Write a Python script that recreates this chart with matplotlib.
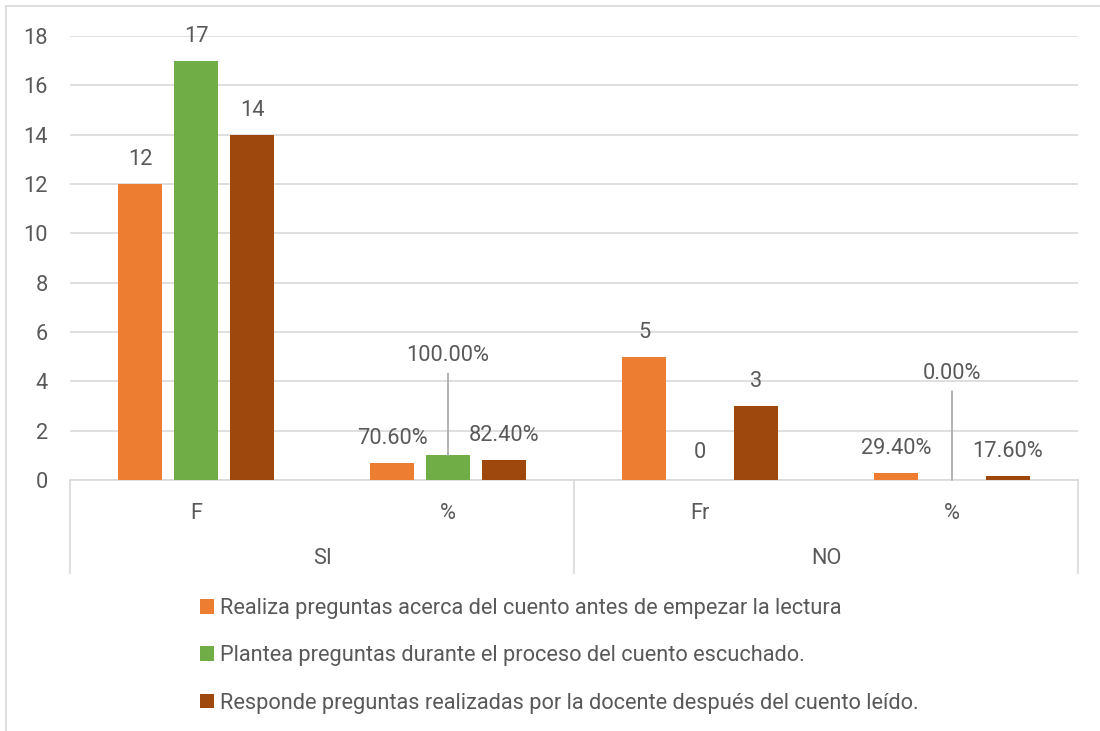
import matplotlib
matplotlib.use("Agg")
import matplotlib.pyplot as plt
from matplotlib.patches import Patch
from matplotlib.lines import Line2D
from matplotlib.transforms import blended_transform_factory
import numpy as np

plt.rcParams['font.family'] = ['Roboto', 'DejaVu Sans']

sub_categories = ["F", "%", "Fr", "%"]
groups = ["SI", "NO"]
series_names = [
    "Realiza preguntas acerca del cuento antes de empezar la lectura",
    "Plantea preguntas durante el proceso del cuento escuchado.",
    "Responde preguntas realizadas por la docente después del cuento leído.",
]
realiza = [12, 0.706, 5, 0.294]
plantea = [17, 1.0, 0, 0.0]
responde = [14, 0.824, 3, 0.176]
labels_realiza = ["12", "70.60%", "5", "29.40%"]
labels_plantea = ["17", "100.00%", "0", "0.00%"]
labels_responde = ["14", "82.40%", "3", "17.60%"]

colors = ["#ED7D31", "#70AD47", "#9E480E"]
text_color = "#595959"
grid_color = "#D9D9D9"

W, H = 1100, 731
fig = plt.figure(figsize=(11, 7.31), dpi=100)
ax = fig.add_axes([70 / W, (H - 480) / H, (1078 - 70) / W, (480 - 36) / H])

x = np.arange(len(sub_categories))
offsets = [-0.222, 0.0, 0.222]
width = 0.175
all_series = [realiza, plantea, responde]
all_labels = [labels_realiza, labels_plantea, labels_responde]

fs = 15.7
for s, (vals, labs) in enumerate(zip(all_series, all_labels)):
    ax.bar(x + offsets[s], vals, width, color=colors[s], zorder=3,
           label=series_names[s])
    for i, (v, lab) in enumerate(zip(vals, labs)):
        xpos = x[i] + offsets[s]
        dy = 17.5  # points above bar top
        leader = False
        if s == 1 and i == 1:
            dy = 72
            leader = True
        elif s == 1 and i == 3:
            dy = 77
            leader = True
        elif s == 1 and i == 2:
            dy = 19.5
        ax.annotate(lab, (xpos, v), xytext=(0, dy), textcoords="offset points",
                    ha="center", va="center", fontsize=fs, color=text_color,
                    zorder=5)
        if leader:
            ax.annotate("", (xpos, v), xytext=(0, dy - 13),
                        textcoords="offset points",
                        arrowprops=dict(arrowstyle="-", color="#A6A6A6", lw=1.2,
                                        shrinkA=0, shrinkB=0), zorder=4)

ax.set_xlim(-0.5, 3.5)
ax.set_ylim(0, 18)
ax.set_yticks(np.arange(0, 19, 2))
ax.yaxis.grid(True, color=grid_color, lw=1.2, zorder=0)
ax.set_axisbelow(True)
for sp in ["top", "right", "left"]:
    ax.spines[sp].set_visible(False)
ax.spines["bottom"].set_color(grid_color)
ax.spines["bottom"].set_linewidth(1.2)
ax.tick_params(axis="y", length=0, pad=16, labelsize=fs, labelcolor=text_color)
ax.set_xticks(x)
ax.set_xticklabels(sub_categories)
ax.tick_params(axis="x", length=0, pad=16.5, labelsize=fs, labelcolor=text_color)

trans = blended_transform_factory(ax.transData, ax.transAxes)
ybot = -(573 - 480) / 444
for xb in [-0.5, 1.5, 3.5]:
    ax.add_line(Line2D([xb, xb], [0, ybot], transform=trans, color=grid_color,
                       lw=1.2, clip_on=False))
for gi, g in enumerate(groups):
    ax.text(gi * 2 + 0.5, -(558 - 480) / 444, g, transform=trans, ha="center",
            va="center", fontsize=fs, color=text_color)

handles = [Patch(facecolor=c) for c in colors]
fig.legend(handles, series_names, loc="upper left",
           bbox_to_anchor=(200 / W, 1 - 598 / H), frameon=False,
           fontsize=fs, labelcolor=text_color, handlelength=0.65,
           handleheight=0.65, handletextpad=0.28, labelspacing=1.21,
           borderpad=0, borderaxespad=0)

# outer chart border
fig.add_artist(Line2D([6 / W, 6 / W], [0, 1 - 6 / H], color=grid_color, lw=1.2))
fig.add_artist(Line2D([6 / W, 1], [1 - 6 / H, 1 - 6 / H], color=grid_color, lw=1.2))

fig.savefig("out.png", dpi=100)
